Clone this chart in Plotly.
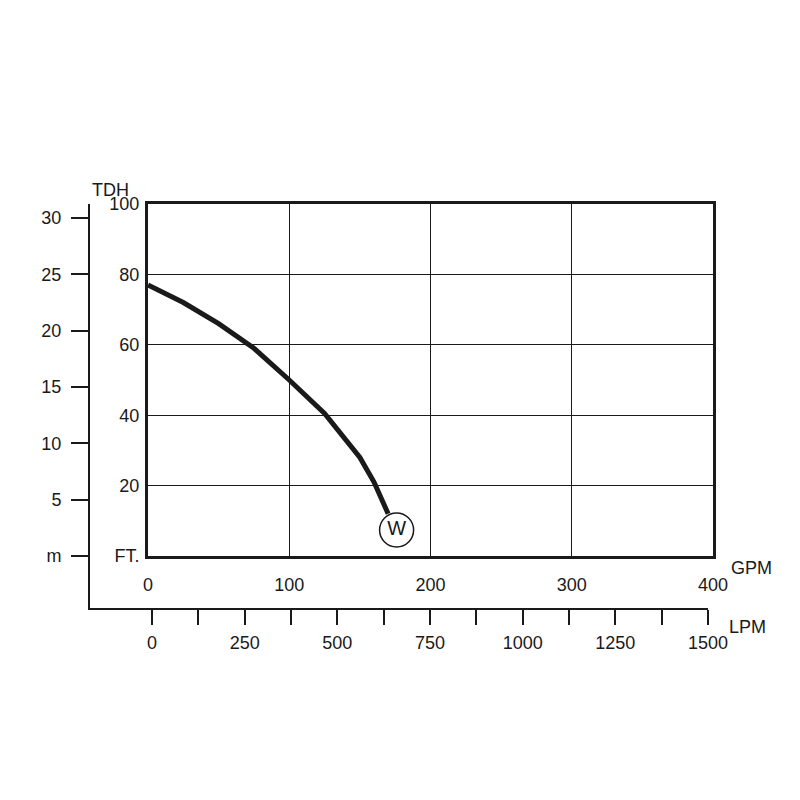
import plotly.graph_objects as go

gpm = [0, 25, 50, 75, 100, 125, 150, 160, 170]
tdh_ft = [77, 72, 66, 59, 50, 40.5, 28, 21, 12]
w_point = (176, 7.4)
gpm_ticks = [0, 100, 200, 300, 400]
ft_ticks = [0, 20, 40, 60, 80, 100]
ft_text = ["FT.", "20", "40", "60", "80", "100"]
m_ticks = [0, 5, 10, 15, 20, 25, 30]
m_text = ["m", "5", "10", "15", "20", "25", "30"]
lpm_ticks = list(range(0, 1501, 125))
lpm_text = [str(v) if v % 250 == 0 else "" for v in lpm_ticks]

L, R, T, B = 60, 95, 196, 200
W_, H_ = 800 - L - R, 800 - T - B
px = lambda x: (x - L) / W_
py = lambda y: (800 - B - y) / H_

C = "#1a1a1a"
F = dict(family="Liberation Sans, Arial", size=18, color=C)

fig = go.Figure()
fig.add_trace(go.Scatter(x=[0], y=[0], xaxis="x2", yaxis="y2", mode="markers", marker=dict(opacity=0), hoverinfo="skip"))
fig.add_trace(go.Scatter(x=gpm, y=tdh_ft, mode="lines", line=dict(color=C, width=5), hoverinfo="skip"))
fig.add_trace(go.Scatter(x=[w_point[0]], y=[w_point[1]], mode="markers+text", text=["W"],
                         textposition="middle center", textfont=dict(family="Liberation Sans, Arial", size=20, color=C),
                         marker=dict(symbol="circle", size=34, color="white", line=dict(color=C, width=1.5)),
                         hoverinfo="skip", cliponaxis=False))

fig.update_layout(
    width=800, height=800, margin=dict(l=L, r=R, t=T, b=B, autoexpand=False),
    paper_bgcolor="white", plot_bgcolor="rgba(0,0,0,0)", showlegend=False, font=F,
    xaxis=dict(domain=[px(140), 1], range=[0, 400], tickmode="array", tickvals=gpm_ticks, ticks="",
               ticklabelstandoff=10, showline=True, mirror=True, linecolor=C, linewidth=3, showgrid=True,
               gridcolor=C, gridwidth=1.3, zeroline=False, anchor="y", tickfont=F, automargin=False),
    yaxis=dict(domain=[py(548), 1], range=[0, 100], tickmode="array", tickvals=ft_ticks, ticktext=ft_text,
               ticks="", ticklabelstandoff=2, showline=True, mirror=True, linecolor=C, linewidth=3,
               gridcolor=C, gridwidth=1.3, zeroline=False, anchor="x", tickfont=F, automargin=False),
    xaxis2=dict(domain=[px(82), px(700)], range=[-62 * 1500 / 556, 1500], tickmode="array", tickvals=lpm_ticks,
                ticktext=lpm_text, ticks="outside", ticklen=15, tickwidth=2, tickcolor=C, showline=True,
                linecolor=C, linewidth=2, showgrid=False, zeroline=False, anchor="y2", tickfont=F,
                ticklabelstandoff=2, automargin=False),
    yaxis2=dict(domain=[0, 1], range=[-52 / 11.27, 404 / 11.27 - 52 / 11.27], tickmode="array", tickvals=m_ticks,
                ticktext=m_text, ticks="outside", ticklen=17, tickwidth=2, tickcolor=C, showline=True,
                linecolor=C, linewidth=2, showgrid=False, zeroline=False, anchor="x2", tickfont=F,
                ticklabelstandoff=6, automargin=False),
)
fig.add_annotation(x=px(82), y=py(170), xref="paper", yref="paper", text="TDH", showarrow=False, font=F)
fig.add_annotation(x=px(721), y=py(572), xref="paper", yref="paper", text="GPM", showarrow=False, font=F, xanchor="left")
fig.add_annotation(x=px(719), y=py(631), xref="paper", yref="paper", text="LPM", showarrow=False, font=F, xanchor="left")
fig.write_html("out.html")
